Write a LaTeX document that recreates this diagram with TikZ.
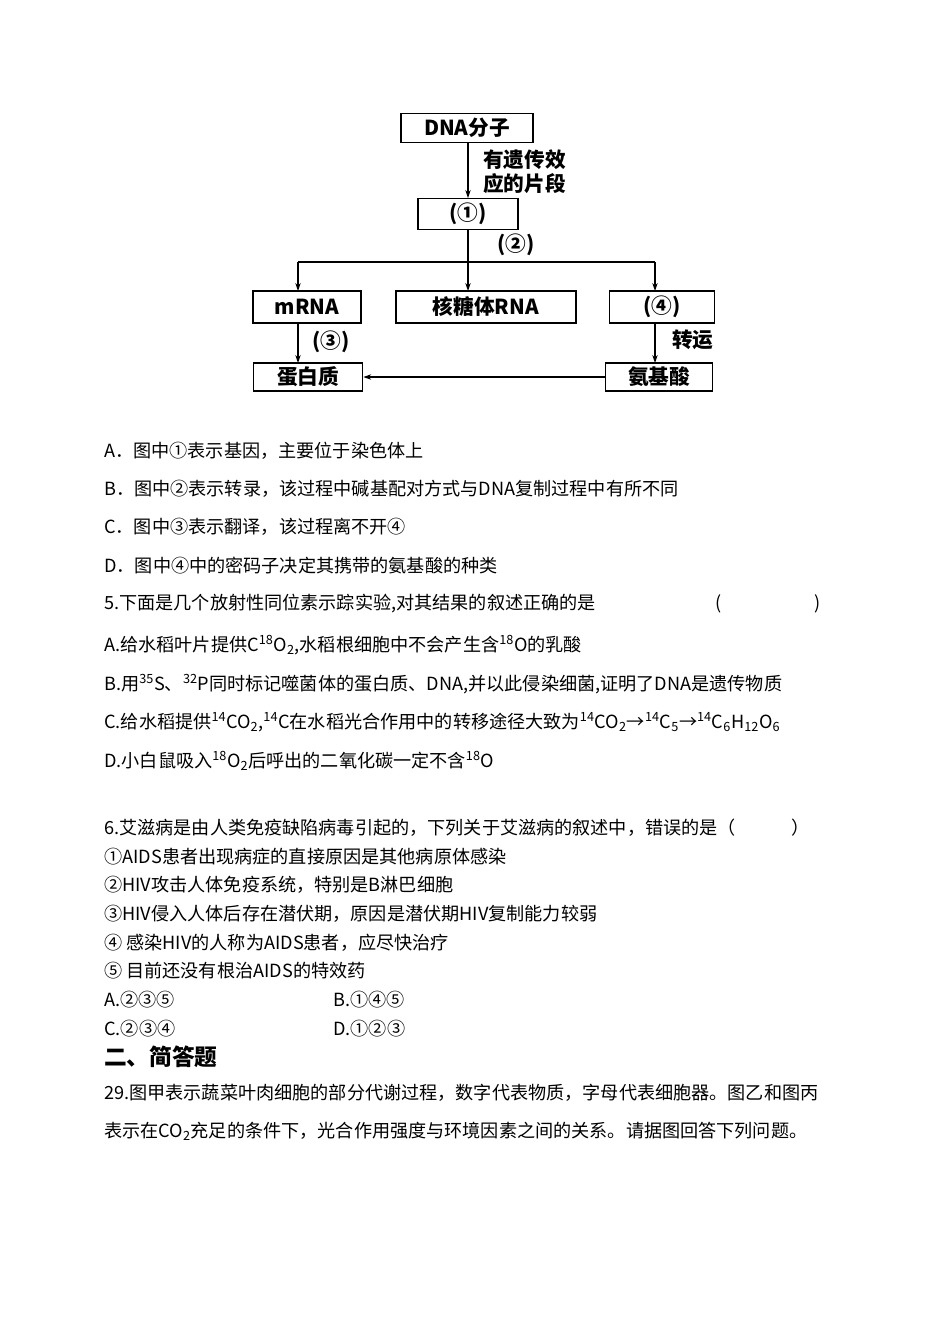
\documentclass[tikz,border=0pt]{standalone}
\usepackage{fontspec}
\setmainfont{Noto Sans CJK SC}
\usetikzlibrary{arrows.meta}
\tikzset{
 bx/.style={draw,line width=0.9pt,minimum height=22pt,inner sep=0pt,font=\fontsize{15.5}{17}\selectfont\bfseries},
 ar/.style={line width=0.8pt,-{Stealth[length=6pt,width=4pt]}},
 lab/.style={font=\fontsize{15.5}{18}\selectfont\bfseries,align=left,inner sep=0pt},
 tx/.style={anchor=west,inner sep=0pt,font=\fontsize{13.6}{15}\selectfont}
}
\begin{document}
\begin{tikzpicture}[x=0.75pt,y=-0.75pt]
\useasboundingbox (0,0) rectangle (950,1342);
\node[bx,minimum width=99pt] (dna) at (467,128) {DNA分子};
\node[bx,minimum width=75pt,minimum height=23pt] (n1) at (468,214) {(①)};
\node[bx,minimum width=81pt,minimum height=24pt] (mrna) at (307,307) {mRNA};
\node[bx,minimum width=135pt,minimum height=24pt] (rrna) at (486,307) {核糖体RNA};
\node[bx,minimum width=79pt,minimum height=24pt] (n4) at (662,307) {(④)};
\node[bx,minimum width=82pt,minimum height=21pt] (prot) at (308,377) {蛋白质};
\node[bx,minimum width=80pt,minimum height=21pt] (aa) at (659,377) {氨基酸};
\coordinate (br) at (468,262);
\draw[ar] (dna.south -| n1) -- (n1.north);
\draw[line width=0.8pt] (n1.south) -- (br);
\draw[line width=0.8pt] (298,262) -- (655,262);
\draw[ar] (br) -- (468,291);
\draw[ar] (298,262) -- (298,291);
\draw[ar] (655,262) -- (655,291);
\draw[ar] (298,323) -- (298,363);
\draw[ar] (655,323) -- (655,363);
\draw[ar] (aa.west) -- (prot.east);
\node[lab,anchor=west] (l1) at (483,172) {有遗传效\\应的片段};
\node[lab,anchor=west] (l2) at (497,245) {(②)};
\node[lab,anchor=west] (l3) at (312,342) {(③)};
\node[lab,anchor=west] (l4) at (672,340) {转运};
\node[tx] (a) at (104,451) {A．图中①表示基因，主要位于染色体上};
\node[tx] (b) at (104,489) {B．图中②表示转录，该过程中碱基配对方式与DNA复制过程中有所不同};
\node[tx] (c) at (104,527) {C．图中③表示翻译，该过程离不开④};
\node[tx] (d) at (104,566) {D．图中④中的密码子决定其携带的氨基酸的种类};
\node[tx] (q5) at (104,604) {5.下面是几个放射性同位素示踪实验,对其结果的叙述正确的是};
\node[tx] (q5p) at (715,604) {(\hspace{70pt})};
\node[tx] (a5) at (104,645) {A.给水稻叶片提供C\textsuperscript{18}O\textsubscript{2},水稻根细胞中不会产生含\textsuperscript{18}O的乳酸};
\node[tx] (b5) at (104,684) {B.用\textsuperscript{35}S、\textsuperscript{32}P同时标记噬菌体的蛋白质、DNA,并以此侵染细菌,证明了DNA是遗传物质};
\node[tx] (c5) at (104,722) {C.给水稻提供\textsuperscript{14}CO\textsubscript{2},\textsuperscript{14}C在水稻光合作用中的转移途径大致为\textsuperscript{14}CO\textsubscript{2}→\textsuperscript{14}C\textsubscript{5}→\textsuperscript{14}C\textsubscript{6}H\textsubscript{12}O\textsubscript{6}};
\node[tx] (d5) at (104,761) {D.小白鼠吸入\textsuperscript{18}O\textsubscript{2}后呼出的二氧化碳一定不含\textsuperscript{18}O};
\node[tx] (q6) at (104,828) {6.艾滋病是由人类免疫缺陷病毒引起的，下列关于艾滋病的叙述中，错误的是（\hspace{42pt}）};
\node[tx] (s1) at (104,857) {①AIDS患者出现病症的直接原因是其他病原体感染};
\node[tx] (s2) at (104,885) {②HIV攻击人体免疫系统，特别是B淋巴细胞};
\node[tx] (s3) at (104,914) {③HIV侵入人体后存在潜伏期，原因是潜伏期HIV复制能力较弱};
\node[tx] (s4) at (104,943) {④ 感染HIV的人称为AIDS患者，应尽快治疗};
\node[tx] (s5) at (104,971) {⑤ 目前还没有根治AIDS的特效药};
\node[tx] (oa) at (104,1000) {A.②③⑤};
\node[tx] (ob) at (333,1000) {B.①④⑤};
\node[tx] (oc) at (104,1029) {C.②③④};
\node[tx] (od) at (333,1029) {D.①②③};
\node[tx,font=\fontsize{17}{19}\selectfont\bfseries] (h2) at (104,1057) {二、简答题};
\node[tx] (q29) at (104,1093) {29.图甲表示蔬菜叶肉细胞的部分代谢过程，数字代表物质，字母代表细胞器。图乙和图丙};
\node[tx] (q29b) at (104,1131) {表示在CO\textsubscript{2}充足的条件下，光合作用强度与环境因素之间的关系。请据图回答下列问题。};
\end{tikzpicture}
\end{document}
